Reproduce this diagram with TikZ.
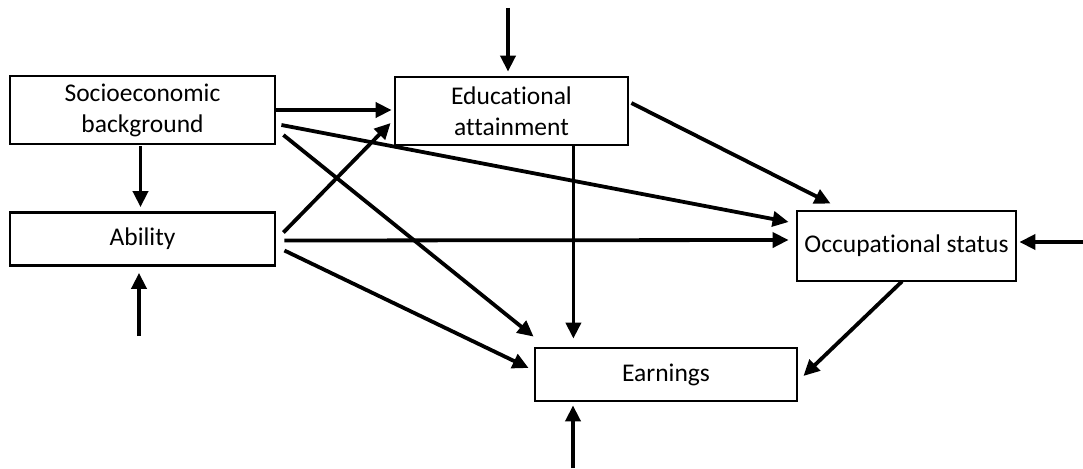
\documentclass[tikz,border=0pt]{standalone}
\usepackage{fontspec}
\setmainfont[Ligatures=NoCommon]{Carlito}
\usetikzlibrary{arrows.meta,calc}
\begin{document}
\begin{tikzpicture}[x=1pt,y=-1pt,
  box/.style={draw=black,line width=2.8pt,minimum width=#1,inner sep=0pt,align=center,font=\fontsize{25.5}{31}\selectfont,text=black},
  arr/.style={line width=3.8pt,draw=black,-{Triangle[length=16pt,width=15pt]}}]
\useasboundingbox (0,0) rectangle (1083,468);
\node[box=265pt,minimum height=68pt] (ses) at (142.5,110) {Socioeconomic\\background};
\node[box=265pt,minimum height=53pt] (abl) at (142.5,239) {Ability};
\node[box=233pt,minimum height=68pt] (edu) at (511.5,111) {Educational\\attainment};
\node[box=219pt,minimum height=70pt] (occ) at (906.5,246) {Occupational status};
\node[box=262pt,minimum height=53pt] (ear) at (666,374.5) {Earnings};
\coordinate (tE) at (508,8);
\coordinate (tA) at (139,336);
\coordinate (tO) at (1083,242);
\coordinate (tB) at (573,468);
% external arrows
\draw[arr] (tE) -- ($(tE |- edu.north)+(0,-4)$);
\draw[arr] (tA) -- ($(tA |- abl.south)+(0,6)$);
\draw[arr] (tO) -- ($(occ.east)+(2,-4)$);
\draw[arr] (tB) -- ($(tB |- ear.south)+(0,3)$);
% internal arrows
\draw[arr] (ses.east) -- ($(edu.west)+(-2,-1)$);
\draw[arr] ($(ses.south)+(-2,1)$) -- ($(abl.north)+(-2,-4)$);
\draw[arr] ($(abl.east)+(7,-6.5)$) -- ($(edu.west)+(-3,12)$);
\draw[arr] ($(ses.east)+(5,15)$) -- ($(occ.west)+(-7,-24)$);
\draw[arr] ($(ses.east)+(7,25)$) -- ($(ear.north west)+(0,-10)$);
\draw[arr] ($(abl.east)+(8,1.5)$) -- ($(occ.west)+(-7,-6)$);
\draw[arr] ($(abl.east)+(8,11.5)$) -- ($(ear.west)+(-5,-6.5)$);
\draw[arr] ($(edu.south east)+(-56,0)$) coordinate (e1) -- ($(e1 |- ear.north)+(0,-8)$);
\draw[arr] ($(edu.east)+(2,-8)$) -- ($(occ.north west)+(35,-6)$);
\draw[arr] ($(occ.south)+(-4.5,-1)$) -- ($(ear.east)+(5,1.5)$);
\end{tikzpicture}
\end{document}
